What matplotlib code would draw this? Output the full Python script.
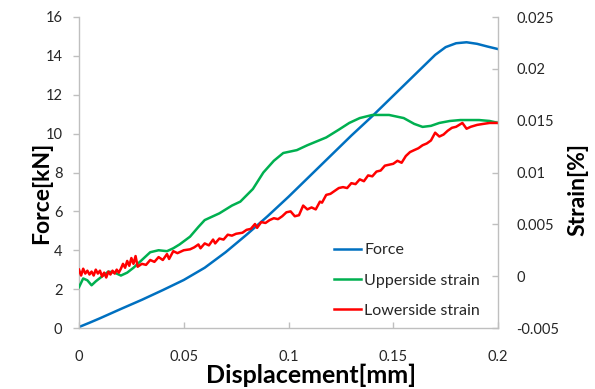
import matplotlib
matplotlib.use("Agg")
import matplotlib.pyplot as plt

plt.rcParams['font.family'] = ['Lato', 'DejaVu Sans']

# Displacement [mm] and force [kN]
force_disp = [0.000, 0.005, 0.010, 0.020, 0.030, 0.040, 0.050, 0.060, 0.070, 0.080,
              0.090, 0.100, 0.110, 0.120, 0.130, 0.140, 0.150, 0.160, 0.170, 0.175,
              0.180, 0.185, 0.190, 0.195, 0.200]
force_kn = [0.05, 0.27, 0.50, 0.98, 1.45, 1.95, 2.47, 3.10, 3.90, 4.80,
            5.75, 6.75, 7.80, 8.85, 9.90, 10.90, 11.95, 13.00, 14.05, 14.45,
            14.65, 14.70, 14.62, 14.48, 14.35]

# Upperside strain [%]
upper_disp = [0.000, 0.002, 0.004, 0.006, 0.008, 0.010, 0.014, 0.017, 0.020, 0.023,
              0.026, 0.030, 0.034, 0.038, 0.042, 0.045, 0.048, 0.053, 0.057, 0.060,
              0.063, 0.067, 0.073, 0.077, 0.083, 0.088, 0.093, 0.0975, 0.104, 0.109,
              0.118, 0.124, 0.129, 0.134, 0.140, 0.148, 0.155, 0.160, 0.164, 0.168,
              0.172, 0.177, 0.182, 0.191, 0.196, 0.200]
upper_strain = [-0.00106, -0.00022, -0.00040, -0.00088, -0.00050, -0.00018, 0.00044, 0.00034, 0.00006, 0.00034,
                0.00081, 0.00156, 0.00231, 0.00250, 0.00241, 0.00269, 0.00306, 0.00381, 0.00475, 0.00541,
                0.00569, 0.00606, 0.00681, 0.00719, 0.00841, 0.01000, 0.01113, 0.01188, 0.01216, 0.01263,
                0.01338, 0.01413, 0.01478, 0.01525, 0.01555, 0.01555, 0.01525, 0.01469, 0.01440, 0.01450,
                0.01478, 0.01497, 0.01506, 0.01506, 0.01497, 0.01478]

# Lowerside strain [%]
lower_disp = [0.000, 0.001, 0.002, 0.003, 0.004, 0.005, 0.006, 0.007, 0.008, 0.009,
              0.010, 0.011, 0.012, 0.013, 0.014, 0.015, 0.016, 0.017, 0.018, 0.019,
              0.020, 0.021, 0.022, 0.023, 0.024, 0.025, 0.026, 0.027, 0.028, 0.030,
              0.032, 0.034, 0.036, 0.038, 0.040, 0.042, 0.043, 0.045, 0.047, 0.050,
              0.053, 0.055, 0.057, 0.058, 0.060, 0.062, 0.064, 0.065, 0.067, 0.069,
              0.071, 0.073, 0.075, 0.078, 0.080, 0.082, 0.084, 0.085, 0.087, 0.089,
              0.091, 0.093, 0.095, 0.097, 0.099, 0.101, 0.103, 0.105, 0.107, 0.109,
              0.111, 0.113, 0.115, 0.116, 0.118, 0.120, 0.122, 0.124, 0.126, 0.128,
              0.130, 0.132, 0.134, 0.136, 0.138, 0.140, 0.142, 0.144, 0.146, 0.148,
              0.150, 0.152, 0.154, 0.156, 0.158, 0.160, 0.162, 0.164, 0.166, 0.168,
              0.170, 0.172, 0.174, 0.176, 0.178, 0.180, 0.183, 0.185, 0.187, 0.190,
              0.193, 0.196, 0.200]
lower_strain = [0.00063, 0.00006, 0.00072, 0.00025, 0.00053, 0.00016, 0.00044, 0.00006, 0.00063, 0.00025,
                0.00053, -0.00003, 0.00034, -0.00013, 0.00044, 0.00016, 0.00053, 0.00025, 0.00063, 0.00034,
                0.00072, 0.00119, 0.00081, 0.00147, 0.00100, 0.00175, 0.00119, 0.00194, 0.00091, 0.00119,
                0.00109, 0.00156, 0.00138, 0.00184, 0.00156, 0.00213, 0.00166, 0.00241, 0.00222, 0.00250,
                0.00259, 0.00278, 0.00306, 0.00269, 0.00316, 0.00297, 0.00353, 0.00316, 0.00363, 0.00353,
                0.00400, 0.00391, 0.00409, 0.00419, 0.00447, 0.00456, 0.00503, 0.00466, 0.00522, 0.00513,
                0.00541, 0.00559, 0.00550, 0.00578, 0.00616, 0.00625, 0.00578, 0.00588, 0.00681, 0.00644,
                0.00663, 0.00644, 0.00719, 0.00709, 0.00784, 0.00794, 0.00822, 0.00850, 0.00859, 0.00850,
                0.00897, 0.00888, 0.00934, 0.00916, 0.00972, 0.00963, 0.01009, 0.01019, 0.01066, 0.01075,
                0.01084, 0.01113, 0.01094, 0.01159, 0.01197, 0.01216, 0.01234, 0.01263, 0.01280, 0.01309,
                0.01384, 0.01347, 0.01366, 0.01403, 0.01431, 0.01441, 0.01478, 0.01422, 0.01441, 0.01459,
                0.01469, 0.01478, 0.01478]

x_ticks = [0, 0.05, 0.1, 0.15, 0.2]
x_tick_labels = ['0', '0.05', '0.1', '0.15', '0.2']
force_ticks = [0, 2, 4, 6, 8, 10, 12, 14, 16]
strain_ticks = [-0.005, 0, 0.005, 0.01, 0.015, 0.02, 0.025]
strain_tick_labels = ['-0.005', '0', '0.005', '0.01', '0.015', '0.02', '0.025']

BLUE = '#0070C0'
GREEN = '#00B050'
RED = '#FF0000'
AXIS_GRAY = '#BFBFBF'
TEXT = '#262626'

fig = plt.figure(figsize=(5.95, 3.89), dpi=100)
ax = fig.add_axes([79 / 595, 1 - 328 / 389, 419 / 595, 311 / 389])
ax2 = ax.twinx()

l1, = ax.plot(force_disp, force_kn, color=BLUE, lw=1.8, label='Force')
l2, = ax2.plot(upper_disp, upper_strain, color=GREEN, lw=1.8, label='Upperside strain')
l3, = ax2.plot(lower_disp, lower_strain, color=RED, lw=1.8, label='Lowerside strain')

ax.set_xlim(0, 0.2)
ax.set_ylim(0, 16)
ax2.set_ylim(-0.005, 0.025)

ax.set_xticks(x_ticks)
ax.set_xticklabels(x_tick_labels)
ax.set_yticks(force_ticks)
ax2.set_yticks(strain_ticks)
ax2.set_yticklabels(strain_tick_labels)

for a in (ax, ax2):
    a.spines['top'].set_visible(False)
    for s in ('left', 'right', 'bottom'):
        a.spines[s].set_color(AXIS_GRAY)
        a.spines[s].set_linewidth(1.0)

ax.spines['right'].set_visible(False)
ax2.spines['left'].set_visible(False)
ax2.spines['bottom'].set_visible(False)

ax.tick_params(axis='y', direction='out', length=4, width=1, color=AXIS_GRAY,
               labelsize=10.5, labelcolor=TEXT, pad=8)
ax.tick_params(axis='x', direction='in', length=4, width=1, color=AXIS_GRAY,
               labelsize=10.5, labelcolor=TEXT, pad=16)
ax2.tick_params(axis='y', direction='in', length=4, width=1, color=AXIS_GRAY,
                labelsize=10.5, labelcolor=TEXT, pad=13)

ax.set_xlabel('Displacement[mm]', fontsize=18, fontweight='bold', color='black')
ax.set_ylabel('Force[kN]', fontsize=16.5, fontweight='bold', color='black')
ax2.set_ylabel('Strain[%]', fontsize=16.5, fontweight='bold', color='black', rotation=90)
ax.xaxis.set_label_coords(0.554, -0.113)
ax.yaxis.set_label_coords(-0.064, 0.435)
ax2.yaxis.set_label_coords(1.165, 0.444)

ax2.legend(handles=[l1, l2, l3], loc='upper left', bbox_to_anchor=(0.593, 0.293),
           frameon=False, fontsize=11.5, handlelength=1.7, handletextpad=0.2,
           labelspacing=1.0, borderaxespad=0, labelcolor=TEXT)

fig.savefig('out.png', dpi=100)
